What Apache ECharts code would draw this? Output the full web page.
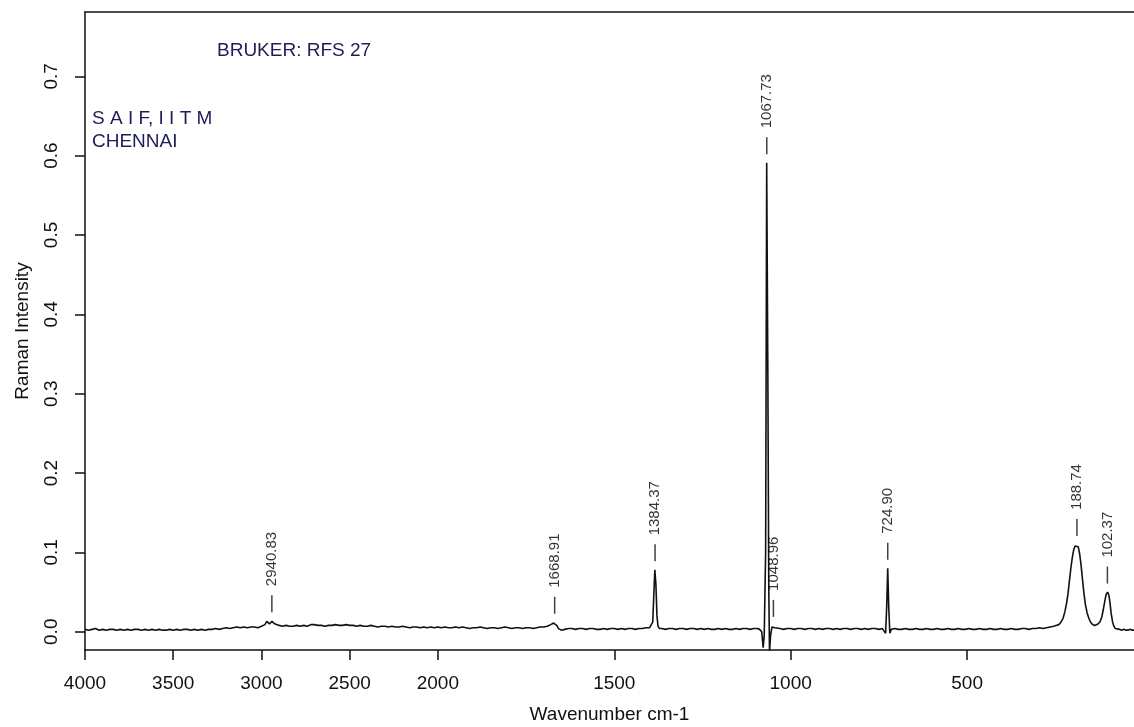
<!DOCTYPE html>
<html>
<head>
<meta charset="utf-8">
<script src="https://cdn.jsdelivr.net/npm/echarts@6/dist/echarts.min.js"></script>
<style>
html,body{margin:0;padding:0;background:#fff;}
#chart{width:1134px;height:727px;}
</style>
</head>
<body>
<div id="chart"></div>
<script>
// ---- data ----
const xTickWavenumbers = [4000, 3500, 3000, 2500, 2000, 1500, 1000, 500];
const xRange = [4000, 27];           // visible wavenumber span (left -> right edge)
const yTickValues = [0, 0.1, 0.2, 0.3, 0.4, 0.5, 0.6, 0.7];
const yRange = [-0.023, 0.781];
const peakLabels = ['2940.83', '1668.91', '1384.37', '1067.73', '1048.96', '724.90', '188.74', '102.37'];
const peakPositions = [2940.83, 1668.91, 1384.37, 1067.73, 1048.96, 724.90, 188.74, 102.37];
const peakHeights = [0.014, 0.012, 0.078, 0.591, 0.008, 0.080, 0.110, 0.050];
const instrumentText = 'BRUKER: RFS 27';
const labText = ['S A I F, I I T M', 'CHENNAI'];

// spectrum: [wavenumber cm-1, Raman intensity]
const spectrum = [
[4000,0.003],[3980,0.002],[3960,0.003],[3940,0.004],[3920,0.002],[3900,0.003],[3880,0.002],[3860,0.003],
[3840,0.003],[3820,0.002],[3800,0.003],[3780,0.002],[3760,0.003],[3740,0.002],[3720,0.003],[3700,0.003],
[3680,0.002],[3660,0.003],[3640,0.002],[3620,0.003],[3600,0.002],[3580,0.003],[3560,0.002],[3540,0.002],
[3520,0.003],[3500,0.002],[3480,0.003],[3460,0.002],[3440,0.003],[3420,0.003],[3400,0.002],[3380,0.003],
[3360,0.002],[3340,0.003],[3320,0.002],[3300,0.003],[3280,0.003],[3260,0.004],[3240,0.003],[3220,0.004],
[3200,0.005],[3180,0.004],[3160,0.005],[3140,0.006],[3120,0.005],[3100,0.006],[3080,0.005],[3060,0.006],
[3040,0.006],[3020,0.005],[3000,0.007],[2990,0.008],[2980,0.009],[2970,0.013],[2962,0.014],[2955,0.010],
[2948,0.009],[2940,0.013],[2932,0.014],[2925,0.010],[2915,0.008],[2900,0.008],[2880,0.007],[2860,0.008],
[2840,0.007],[2820,0.007],[2800,0.008],[2780,0.007],[2760,0.008],[2740,0.007],[2720,0.009],[2700,0.009],
[2680,0.008],[2660,0.008],[2640,0.007],[2620,0.008],[2600,0.008],[2580,0.009],[2560,0.008],[2540,0.008],
[2520,0.009],[2500,0.008],[2480,0.008],[2460,0.007],[2440,0.008],[2420,0.007],[2400,0.007],[2380,0.008],
[2360,0.007],[2340,0.006],[2320,0.007],[2300,0.007],[2280,0.006],[2260,0.007],[2240,0.006],[2220,0.006],
[2200,0.007],[2180,0.006],[2160,0.005],[2140,0.006],[2120,0.006],[2100,0.005],[2080,0.006],[2060,0.005],
[2040,0.006],[2020,0.005],[2000,0.006],
[1990,0.005],[1980,0.006],[1970,0.005],[1960,0.005],[1950,0.006],[1940,0.005],[1930,0.006],[1920,0.005],
[1910,0.004],[1900,0.005],[1890,0.005],[1880,0.006],[1870,0.005],[1860,0.004],[1850,0.005],[1840,0.005],
[1830,0.004],[1820,0.005],[1810,0.006],[1800,0.005],[1790,0.004],[1780,0.005],[1770,0.005],[1760,0.004],
[1750,0.005],[1740,0.005],[1730,0.004],[1720,0.005],[1710,0.006],[1700,0.006],[1690,0.007],[1680,0.009],
[1672,0.011],[1668,0.012],[1663,0.008],[1658,0.004],[1650,0.002],[1640,0.003],[1630,0.004],[1620,0.004],
[1610,0.003],[1600,0.004],[1590,0.004],[1580,0.003],[1570,0.004],[1560,0.004],[1550,0.003],[1540,0.003],
[1530,0.004],[1520,0.003],[1510,0.004],[1500,0.004],[1490,0.003],[1480,0.004],[1470,0.003],[1460,0.004],
[1450,0.004],[1440,0.003],[1430,0.004],[1420,0.004],[1410,0.005],[1400,0.005],[1395,0.006],[1391,0.012],
[1388,0.045],[1385,0.078],[1382,0.060],[1379,0.020],[1376,0.007],[1372,0.004],[1365,0.004],[1355,0.003],
[1345,0.004],[1335,0.004],[1325,0.003],[1315,0.004],[1305,0.004],[1295,0.003],[1285,0.004],[1275,0.004],
[1265,0.003],[1255,0.004],[1245,0.003],[1235,0.004],[1225,0.003],[1215,0.003],[1205,0.004],[1195,0.003],
[1185,0.004],[1175,0.003],[1165,0.003],[1155,0.004],[1145,0.003],[1135,0.004],[1125,0.004],[1115,0.003],
[1105,0.004],[1095,0.004],[1088,0.003],[1082,0.000],[1078,-0.020],[1075,-0.005],[1071,0.100],[1068,0.591],
[1065,0.350],[1062,0.050],[1060,-0.025],[1057,-0.005],[1053,0.006],[1049,0.008],[1045,0.005],[1040,0.004],
[1030,0.004],[1020,0.003],[1010,0.004],[1000,0.004],[990,0.003],[980,0.004],[970,0.004],[960,0.003],
[950,0.004],[940,0.004],[930,0.003],[920,0.004],[910,0.003],[900,0.004],[890,0.004],[880,0.003],
[870,0.004],[860,0.003],[850,0.004],[840,0.004],[830,0.003],[820,0.004],[810,0.004],[800,0.003],
[790,0.004],[780,0.003],[770,0.004],[760,0.004],[750,0.003],[740,0.004],[735,0.003],[731,-0.002],
[728,0.030],[725,0.080],[722,0.030],[719,-0.002],[715,0.003],[705,0.004],[695,0.003],[685,0.003],
[675,0.004],[665,0.003],[655,0.003],[645,0.004],[635,0.003],[625,0.003],[615,0.004],[605,0.003],
[595,0.003],[585,0.004],[575,0.003],[565,0.003],[555,0.004],[545,0.003],[535,0.003],[525,0.004],
[515,0.003],[505,0.003],[495,0.004],[485,0.003],[475,0.003],[465,0.004],[455,0.003],[445,0.003],
[435,0.004],[425,0.003],[415,0.003],[405,0.004],[395,0.003],[385,0.003],[375,0.004],[365,0.003],
[355,0.003],[345,0.004],[335,0.004],[325,0.003],[315,0.004],[305,0.004],[295,0.005],[285,0.004],
[275,0.005],[265,0.006],[255,0.007],[248,0.008],[240,0.009],[234,0.012],[228,0.017],[223,0.025],
[218,0.036],[214,0.048],[210,0.064],[206,0.080],[202,0.093],[198,0.103],[194,0.108],[189,0.110],
[185,0.107],[181,0.098],[177,0.084],[173,0.066],[169,0.049],[165,0.035],[160,0.024],[155,0.017],
[150,0.012],[144,0.009],[138,0.008],[133,0.008],[128,0.010],[123,0.013],[118,0.019],[114,0.028],
[110,0.038],[106,0.047],[102,0.050],[98,0.046],[95,0.036],[92,0.024],[88,0.013],[84,0.007],
[80,0.004],[75,0.003],[68,0.003],[62,0.002],[56,0.003],[50,0.002],[44,0.002],[38,0.003],
[32,0.002],[27,0.002]
];

// ---- piecewise wavenumber axis: above 2000 cm-1 is compressed by 2 ----
const BREAK = 2000, COMPRESS = 2;
function toAxis(w) { return w > BREAK ? BREAK + (w - BREAK) / COMPRESS : w; }
function fromAxis(u) { return u > BREAK ? BREAK + (u - BREAK) * COMPRESS : u; }

const lineData = spectrum.map(p => [toAxis(p[0]), p[1]]);
const peakData = peakPositions.map((w, i) => ({ value: [toAxis(w), peakHeights[i]], name: peakLabels[i] }));
const xTickAxis = xTickWavenumbers.map(toAxis);

const FONT = '"Liberation Sans", Arial, sans-serif';
const INK = '#111111';
const NAVY = '#1d1d58';

const chart = echarts.init(document.getElementById('chart'), null, { renderer: 'canvas' });
chart.setOption({
  backgroundColor: '#ffffff',
  animation: false,
  textStyle: { fontFamily: FONT },
  grid: { left: 85, top: 12, right: 0, height: 638, show: false, containLabel: false, outerBoundsMode: 'none' },
  xAxis: [
    {
      type: 'value',
      inverse: true,
      min: toAxis(xRange[1]), max: toAxis(xRange[0]),
      name: 'Wavenumber cm-1',
      nameLocation: 'middle',
      nameGap: 55,
      nameTextStyle: { fontSize: 19, color: INK, fontFamily: FONT },
      axisLine: { show: true, onZero: false, lineStyle: { color: INK, width: 1.5 } },
      axisTick: { show: true, length: 10, lineStyle: { color: INK, width: 1.5 }, customValues: xTickAxis },
      axisLabel: {
        show: true, fontSize: 19, color: INK, margin: 24, fontFamily: FONT,
        customValues: xTickAxis,
        formatter: v => String(Math.round(fromAxis(v)))
      },
      splitLine: { show: false }
    },
    {
      type: 'value',
      position: 'top',
      inverse: true,
      min: toAxis(xRange[1]), max: toAxis(xRange[0]),
      axisLine: { show: true, onZero: false, lineStyle: { color: INK, width: 1.5 } },
      axisTick: { show: false },
      axisLabel: { show: false },
      splitLine: { show: false }
    }
  ],
  yAxis: {
    type: 'value',
    min: yRange[0], max: yRange[1],
    name: 'Raman Intensity',
    nameLocation: 'middle',
    nameRotate: 90,
    nameGap: 53,
    nameTextStyle: { fontSize: 19, color: INK, fontFamily: FONT },
    axisLine: { show: true, onZero: false, lineStyle: { color: INK, width: 1.5 } },
    axisTick: { show: true, length: 10, lineStyle: { color: INK, width: 1.5 }, customValues: yTickValues },
    axisLabel: {
      show: true, fontSize: 19, color: INK, margin: 24, rotate: 90, fontFamily: FONT,
      customValues: yTickValues,
      formatter: v => v.toFixed(1)
    },
    splitLine: { show: false }
  },
  series: [
    {
      type: 'line',
      xAxisIndex: 0,
      data: lineData,
      showSymbol: false,
      symbol: 'none',
      smooth: false,
      clip: true,
      sampling: null,
      lineStyle: { color: INK, width: 1.6 },
      z: 3
    },
    {
      type: 'scatter',
      xAxisIndex: 0,
      data: peakData,
      symbol: 'rect',
      symbolSize: [1.5, 17],
      symbolOffset: [0, -17],
      itemStyle: { color: INK },
      label: {
        show: true,
        position: 'top',
        distance: 9,
        rotate: 90,
        align: 'left',
        verticalAlign: 'middle',
        fontSize: 15,
        color: '#000',
        fontFamily: FONT,
        formatter: p => p.name
      },
      z: 4
    }
  ],
  graphic: [
    { type: 'text', left: 217, top: 41, style: { text: instrumentText, fontSize: 19, fill: NAVY, fontFamily: FONT } },
    { type: 'text', left: 92, top: 109, style: { text: labText[0], fontSize: 19, fill: NAVY, fontFamily: FONT } },
    { type: 'text', left: 92, top: 132, style: { text: labText[1], fontSize: 19, fill: NAVY, fontFamily: FONT } }
  ]
});
</script>
</body>
</html>
